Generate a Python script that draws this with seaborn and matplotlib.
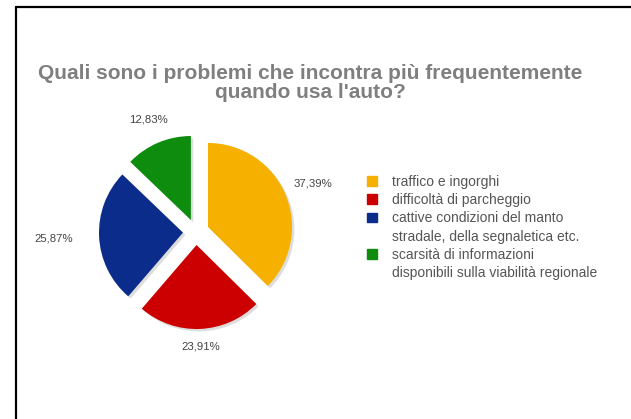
import matplotlib
matplotlib.use("Agg")
import numpy as np
import matplotlib.pyplot as plt
import seaborn as sns
from matplotlib.lines import Line2D
from matplotlib.patches import Patch

# survey answers (share of respondents, %)
categories = [
    "traffico e ingorghi",
    "difficoltà di parcheggio",
    "cattive condizioni del manto\nstradale, della segnaletica etc.",
    "scarsità di informazioni\ndisponibili sulla viabilità regionale",
]
values = [37.39, 23.91, 25.87, 12.83]
colors = ["#F5B000", "#CC0000", "#0B2C8A", "#0E8C0E"]
title = "Quali sono i problemi che incontra più frequentemente\nquando usa l'auto?"

sns.set_theme(style="white")
plt.rcParams["font.family"] = ["Liberation Sans", "DejaVu Sans"]

fig = plt.figure(figsize=(6.31, 4.19), dpi=100)
fig.patch.set_facecolor("white")

# frame lines (left and top only, like the screenshot)
fig.add_artist(Line2D([16 / 631, 16 / 631], [0, 1 - 7 / 419], color="black", lw=1.6,
                      transform=fig.transFigure))
fig.add_artist(Line2D([16 / 631, 1], [1 - 7 / 419, 1 - 7 / 419], color="black", lw=1.6,
                      transform=fig.transFigure))

fig.text(310 / 631, 1 - 83 / 419, title, ha="center", va="center", fontsize=15,
         fontweight="bold", color="#7f7f7f", linespacing=0.95)

# pie: centre at (196, 232) px, radius 84 px
L = 2.0
r_px = 84
w = 2 * L * r_px
ax = fig.add_axes([(196 - w / 2) / 631, (419 - 232 - w / 2) / 419, w / 631, w / 419])

def fmt(p):
    return f"{p:.2f}%".replace(".", ",")

wedges, _ = ax.pie(
    values,
    colors=colors,
    startangle=90,
    counterclock=False,
    explode=[0.155] * len(values),
    shadow=dict(ox=0.02, oy=-0.02, facecolor="#cfcfcf", edgecolor="#cfcfcf", alpha=0.7),
    wedgeprops=dict(linewidth=0),
)

# percentage labels outside each slice, at a slice-specific distance
label_dist = [1.51, 1.37, 1.70, 1.45]
for wdg, v, d in zip(wedges, values, label_dist):
    mid = np.deg2rad((wdg.theta1 + wdg.theta2) / 2)
    ax.text(d * np.cos(mid), d * np.sin(mid), fmt(v), ha="center", va="center",
            fontsize=8.2, color="#444444")

ax.set_xlim(-L, L)
ax.set_ylim(-L, L)
ax.axis("off")

# legend: wrapped lines as separate rows so the marker sits on the first line
handles, labels = [], []
for cat, col in zip(categories, colors):
    lines = cat.split("\n")
    handles.append(Patch(facecolor=col, edgecolor=col))
    labels.append(lines[0])
    for extra in lines[1:]:
        handles.append(Patch(facecolor="none", edgecolor="none"))
        labels.append(extra)

fig.legend(handles, labels, loc="upper left", bbox_to_anchor=(367 / 631, 1 - 175 / 419),
           frameon=False, fontsize=10, handlelength=0.7, handleheight=0.7,
           handletextpad=1.08, labelspacing=0.3, borderpad=0, borderaxespad=0,
           labelcolor="#555555")

fig.savefig("out.png", dpi=100, facecolor="white")
